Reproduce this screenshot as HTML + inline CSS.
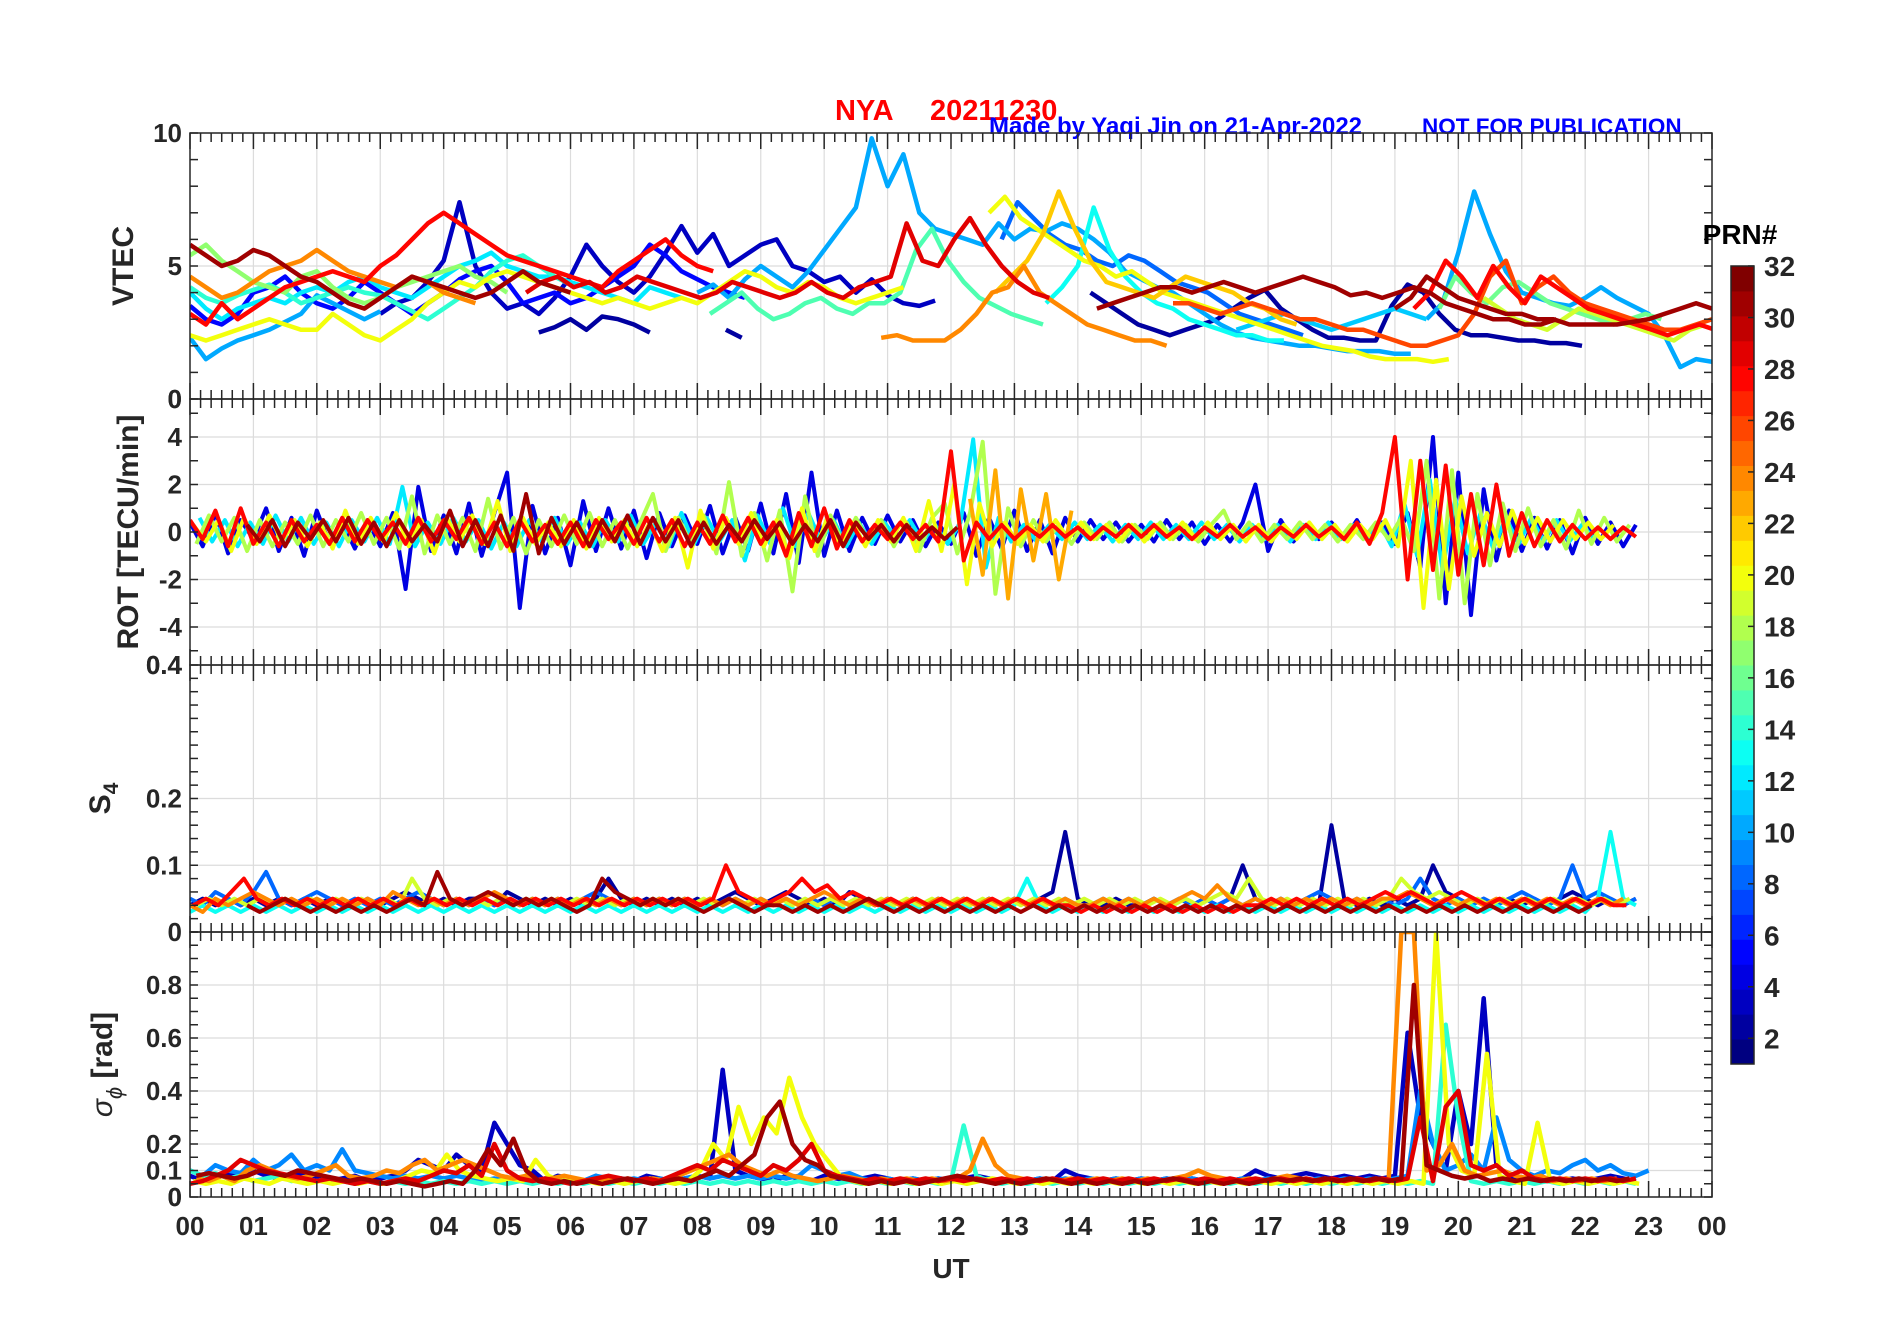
<!DOCTYPE html>
<html><head><meta charset="utf-8"><style>
html,body{margin:0;padding:0;background:#fff;}
svg{display:block;font-family:"Liberation Sans",Arial,sans-serif;}
</style></head><body>
<svg id="fig" width="1902" height="1330" viewBox="0 0 1902 1330" xmlns="http://www.w3.org/2000/svg">
<rect width="1902" height="1330" fill="#fff"/>
<text x="835" y="120" font-size="29" font-weight="bold" fill="#ff0000">NYA</text>
<text x="930" y="120" font-size="29" font-weight="bold" fill="#ff0000">20211230</text>
<text x="989" y="134" font-size="24" font-weight="bold" fill="#0000ff">Made by Yaqi Jin on 21-Apr-2022</text>
<text x="1422" y="134" font-size="22.5" font-weight="bold" fill="#0000ff">NOT FOR PUBLICATION</text>
<g id="panels"></g>
<g id="cbar"></g>
<text x="951" y="1278" font-size="28" font-weight="bold" fill="#262626" text-anchor="middle">UT</text>
<text x="1740" y="244" font-size="28" font-weight="bold" fill="#000" text-anchor="middle">PRN#</text>
</svg>
<script>
// ---------- data ----------
const hourLabels = ["00","01","02","03","04","05","06","07","08","09","10","11","12","13","14","15","16","17","18","19","20","21","22","23","00"];
const vtecTicks = [0,5,10];
const rotTicks = [-4,-2,0,2,4];
const s4Ticks = [0.1,0.2,0.4];
const sigTicks = [0,0.1,0.2,0.4,0.6,0.8];
const cbarTicks = [2,4,6,8,10,12,14,16,18,20,22,24,26,28,30,32];

// VTEC series: PRN, start hour, values every 0.25 h
const vtecPrn   = [10,10,10,3,2,2,2,5,12,14,15,17,20,20,22,24,24,26,28,28,29,31,31,31,13,16,8,19,11];
const vtecStart = [0,8,19.5,3,5.5,8.45,14.2,0,0,0,8.2,0,0,12.6,12.7,0,10.9,15.5,0,19.3,5.3,0,14.3,19.0,13.5,19.7,12.8,20.4,16.5];
const vtecVals = [
 [2.3,1.5,1.9,2.2,2.4,2.6,2.9,3.2,3.9,3.6,3.3,3.0,3.3],
 [4.0,4.3,3.8,4.5,5.0,4.6,4.2,4.8,5.6,6.4,7.2,9.8,8.0,9.2,7.0,6.4,6.2,6.0,5.8,6.6,6.0,6.4,6.3,6.6,6.4,6.0,5.5,4.8,4.5,4.2,4.0,3.6,3.2,2.8,2.5,2.3,2.2,2.1,2.0,2.0,1.9,1.8,1.8,1.8,1.7,1.7],
 [3.0,3.6,5.5,7.8,6.2,4.8,4.0,3.8,3.6,3.5,3.8,4.2,3.8,3.5,3.2,2.4,1.2,1.5,1.4],
 [3.2,3.6,3.8,4.4,5.2,7.4,5.0,4.0,3.4,3.6,3.2,3.8,4.6,5.8,5.0,4.4,4.0,4.6,5.5,6.5,5.5,6.2,5.0,5.4,5.8,6.0,5.0,4.8,4.4,4.6,4.0,4.5,3.9,3.6,3.5,3.7],
 [2.5,2.7,3.0,2.6,3.1,3.0,2.8,2.5],
 [2.6,2.3],
 [4.0,3.6,3.2,2.8,2.6,2.4,2.6,2.8,3.0,3.4,3.8,4.1,3.4,3.0,2.6,2.3,2.3,2.2,2.2,3.5,4.3,4.0,3.2,2.6,2.4,2.4,2.3,2.2,2.2,2.1,2.1,2.0],
 [3.5,3.0,2.8,3.2,4.0,4.2,4.6,4.0,3.6,3.4,3.8,4.4,4.0,3.6,3.2,3.6,4.0,4.5,4.8,5.0,4.4,3.6,3.8,4.0,3.6,3.8,4.2,4.6,5.0,5.8,5.4,4.8,4.5,4.2,4.0,3.8],
 [4.0,3.4,3.0,3.4,3.6,3.8,3.6,4.0,4.2,4.0,4.4,4.6,4.2,4.0,3.8,4.2,4.6,5.0,5.2,5.5,5.0,4.8,4.6,4.6,4.4,4.2,4.0,3.8,3.6,4.2,4.0,3.8],
 [4.2,3.8,3.6,3.9,4.1,4.3,4.0,3.6,3.8,4.0,4.2,4.0,3.9,3.6,3.3,3.0,3.4,3.8,4.2,4.8,5.2,5.4,5.0,4.6,4.3],
 [3.2,3.6,4.0,3.4,3.0,3.2,3.6,3.8,3.4,3.2,3.6,3.6,4.0,5.6,6.4,5.2,4.4,3.8,3.5,3.2,3.0,2.8],
 [5.4,5.8,5.2,4.8,4.4,4.2,4.0,4.6,4.8,4.2,3.8,3.6,3.8,4.2,4.4,4.6,4.8,5.0,4.6,4.4,4.0],
 [2.4,2.2,2.4,2.6,2.8,3.0,2.8,2.6,2.6,3.2,2.8,2.4,2.2,2.6,3.0,3.6,4.0,4.4,4.2,4.6,4.8,4.6,4.4,4.2,4.0,3.8,3.6,3.8,3.6,3.4,3.6,3.8,3.6,4.0,4.4,4.8,4.6,4.2,4.0,4.4,4.2,3.8,3.6,3.8,4.0,4.2],
 [7.0,7.6,6.8,6.4,6.0,5.6,5.2,5.0,4.6,4.8,4.4,4.0,3.8,3.6,3.4,3.2,3.0,2.8,2.6,2.4,2.2,2.0,1.9,1.8,1.6,1.5,1.5,1.5,1.4,1.5],
 [4.0,4.6,5.2,6.2,7.8,6.4,5.2,4.4,4.2,4.0,3.8,4.2,4.6,4.4,4.2,4.0,3.6,3.4,3.0,2.8],
 [4.6,4.2,3.8,4.0,4.4,4.8,5.0,5.2,5.6,5.2,4.8,4.6,4.4,4.2,4.6,4.4,4.0,3.8,3.6],
 [2.3,2.4,2.2,2.2,2.2,2.6,3.2,4.0,4.2,5.0,4.0,3.6,3.2,2.8,2.6,2.4,2.2,2.2,2.0],
 [3.6,3.6,3.4,3.2,3.4,3.6,3.4,3.2,3.0,3.0,2.8,2.6,2.6,2.4,2.2,2.0,2.0,2.2,2.4,3.2,4.6,5.2,3.6,4.2,4.6,4.0,3.6,3.4,3.2,3.0,2.8,2.6,2.6,2.8,3.0,3.2],
 [3.2,2.8,3.6,3.0,3.4,3.8,4.2,4.4,4.6,4.8,4.6,4.4,5.0,5.4,6.0,6.6,7.0,6.6,6.2,5.8,5.4,5.2,5.0,4.8,4.6,4.4,4.2,4.8,5.2,5.6,6.0,5.4,5.0,4.8],
 [3.4,4.0,5.2,4.6,3.8,5.0,4.2,3.6,4.6,4.2,3.8,3.4,3.2,3.0,2.8,2.6,2.4,2.6,2.8,2.6,2.4,2.2],
 [4.0,4.4,4.6,4.2,4.4,4.0,4.2,4.6,4.4,4.2,4.0,3.8,4.0,4.4,4.2,4.0,3.8,4.0,4.4,4.0,3.8,4.2,4.4,4.6,6.6,5.2,5.0,6.0,6.8,5.8,5.0,4.4,4.0,3.8],
 [5.8,5.4,5.0,5.2,5.6,5.4,5.0,4.6,4.4,4.0,3.6,3.4,3.8,4.2,4.6,4.4,4.2,4.0,3.8,4.0,4.4,4.8,4.4,4.2,4.0],
 [3.4,3.6,3.8,4.0,4.2,4.2,4.0,4.2,4.4,4.2,4.0,4.2,4.4,4.6,4.4,4.2,3.9,4.0,3.8,4.0,4.2,4.0,3.6,3.4,3.2,3.0,3.0,2.8,2.8,3.0],
 [3.4,3.8,4.6,4.2,3.8,3.6,3.4,3.2,3.2,3.0,3.0,2.8,2.8,2.8,2.8,2.9,3.0,3.2,3.4,3.6,3.4],
 [3.6,4.2,5.0,7.2,5.6,4.6,4.0,3.6,3.4,3.0,2.8,2.6,2.4,2.4,2.2,2.2],
 [3.4,4.6,4.0,3.6,4.2,4.4,4.0,3.6,3.4,3.2,3.0,2.8,3.0,3.2,3.0],
 [6.0,7.4,6.8,6.2,5.8,5.6,5.2,5.0,5.4,5.2,4.8,4.4,4.2,4.0,3.6,3.2,3.0,2.8,2.6,2.4],
 [3.8,3.4,3.0,2.8,2.6,3.0,3.4,3.2,3.0,2.8,2.6,2.4,2.2,2.6,2.8],
 [2.6,2.8,3.0,3.2,3.0,2.8,2.6,2.8,3.0,3.2,3.4,3.2,3.0]
];

// ROT series: values every 0.2 h
const rotPrn = [4,18,20,12,28,23,31];
const rotStart = [0,0.1,0.05,0.15,0.0,12.3,0.9];
const rotVals = [
 [0.4,-0.6,0.8,-0.9,0.5,-0.3,1.0,-0.8,0.6,-1.0,0.9,-0.5,0.4,-0.7,0.5,-0.6,0.8,-2.4,1.9,-0.8,0.7,-0.9,1.2,-1.0,0.8,2.5,-3.2,1.1,-0.9,0.6,-1.4,1.3,-0.8,1.0,-0.7,0.9,-1.1,0.8,-0.6,0.7,-0.5,1.1,-0.9,0.6,-0.8,1.2,-0.9,1.6,-1.3,2.5,-1.0,0.9,-0.8,0.6,-0.5,0.7,-0.4,0.5,-0.6,0.4,-0.5,0.8,-1.0,0.6,-0.7,0.9,-0.8,0.5,-0.9,0.6,-0.4,0.5,-0.3,0.4,-0.4,0.3,-0.4,0.5,-0.3,0.4,-0.5,0.3,-0.4,0.4,2.0,-0.8,0.5,-0.4,0.3,-0.3,0.4,-0.3,0.5,-0.4,0.4,-0.5,0.8,-1.5,4.0,-3.0,2.5,-3.5,1.8,-1.2,0.9,-0.8,0.6,-0.7,0.5,-0.9,0.6,-0.5,0.4,-0.6,0.3],
 [-0.5,0.7,-0.4,0.6,-0.8,0.5,-0.6,0.4,-0.5,0.7,-0.6,0.5,-0.4,0.8,-0.5,0.6,-0.7,1.5,-0.9,0.7,-0.5,0.6,-0.8,1.4,-0.7,0.6,-0.9,0.5,-0.6,0.7,-0.5,0.8,-0.6,0.5,-0.7,0.4,1.6,-0.8,0.6,-0.5,0.7,-0.9,2.1,-1.0,0.8,-1.2,0.9,-2.5,1.5,-1.0,0.7,-0.5,0.6,-0.4,0.5,-0.6,0.4,-0.8,0.6,1.2,-0.9,0.8,3.8,-2.6,1.0,-0.6,0.5,-0.4,0.3,-0.5,0.4,-0.3,0.4,-0.4,0.3,-0.3,0.4,-0.3,0.3,-0.4,0.3,0.9,-0.3,0.4,-0.4,0.3,-0.3,0.4,-0.3,0.3,-0.4,0.3,-0.3,0.4,-0.3,0.6,-0.8,3.0,-2.8,2.6,-3.0,1.6,-1.4,1.2,-0.8,1.0,-0.6,0.5,-0.7,0.9,-0.5,0.6,-0.4,0.3],
 [0.3,-0.4,0.5,-0.8,0.6,-0.5,0.7,-0.4,0.5,-0.6,0.4,-0.7,0.9,-0.5,0.6,-0.4,0.8,-0.6,0.5,-0.9,0.6,-0.4,0.7,-0.5,1.3,-0.8,0.6,-0.5,0.4,-0.6,0.5,-0.7,0.6,-0.4,0.5,-0.6,0.4,-0.8,0.6,-1.5,0.9,-0.7,0.6,-0.5,0.8,-0.6,0.5,-1.1,1.0,-0.8,0.6,-0.5,0.4,-0.6,0.5,-0.4,0.6,-0.8,1.3,-0.8,2.0,-2.2,1.2,-0.6,0.4,-0.5,0.3,-0.4,0.5,-0.3,0.4,-0.3,0.3,-0.4,0.3,-0.4,0.3,-0.3,0.4,-0.3,0.4,-0.3,0.3,-0.4,0.3,-0.4,0.3,-0.3,0.4,-0.3,0.3,-0.4,0.3,-0.3,0.5,-0.6,3.0,-3.2,2.2,-2.4,1.5,-1.0,0.8,-0.6,0.9,-0.5,0.6,-0.4,0.5,-0.3,0.4,-0.3,0.3],
 [0.6,-0.4,0.5,-0.6,0.4,-0.5,0.7,-0.4,0.6,-0.5,0.4,-0.6,0.5,-0.4,0.6,-0.5,1.9,-0.6,0.4,-0.5,0.6,-0.4,0.5,-0.7,0.4,-0.6,0.5,-0.4,0.6,-0.5,0.4,-0.6,0.5,-0.4,0.7,-0.5,0.4,-0.6,0.8,-0.5,0.6,-0.4,0.5,-1.2,0.7,-0.5,1.0,-0.6,0.8,-0.4,0.5,-0.6,0.4,-0.5,0.4,-0.3,0.5,-0.4,0.3,-0.5,0.4,3.9,-1.5,0.6,-0.4,0.3,-0.4,0.3,-0.3,0.4,-0.3,0.3,-0.4,0.3,-0.3,0.4,-0.3,0.3,-0.3,0.4,-0.3,0.3,-0.4,0.3,-0.3,0.3,-0.4,0.3,-0.3,0.4,-0.3,0.3,-0.3,0.4,-0.6,1.2,-1.0,2.2,-1.6,1.4,-0.9,0.8,-0.7,0.6,-0.5,0.6,-0.4,0.5,-0.4,0.3,-0.3],
 [0.5,-0.3,0.9,-0.6,1.0,-0.5,0.4,-0.6,0.5,-0.4,0.3,-0.5,0.6,-0.4,0.5,-0.3,0.4,-0.5,0.6,-0.4,0.5,-0.3,0.6,-0.5,0.4,-0.6,0.5,-0.4,0.3,-0.5,0.4,-0.6,0.5,-0.3,0.4,-0.5,0.6,-0.4,0.5,-0.6,0.4,-0.5,0.7,-0.4,0.6,-0.5,0.4,-1.0,0.8,-0.6,1.0,-0.7,0.5,-0.4,0.3,-0.3,0.4,-0.3,0.3,-0.4,3.4,-1.2,0.4,-0.3,0.3,-0.3,0.2,-0.2,0.3,-0.2,0.2,-0.3,0.2,-0.2,0.3,-0.2,0.3,-0.2,0.2,-0.3,0.2,-0.2,0.3,-0.2,0.2,-0.3,0.2,-0.2,0.3,-0.2,0.2,-0.3,0.4,-0.5,0.8,4.0,-2.0,3.0,-1.6,2.8,-1.8,1.6,-1.4,2.0,-1.0,0.8,-0.6,0.5,-0.4,0.3,-0.3,0.2,-0.3,0.2,-0.2],
 [1.4,-1.8,2.6,-2.8,1.8,-1.2,1.6,-2.0,0.9],
 [0.3,-0.4,0.5,-0.6,0.4,-0.3,0.5,-0.4,0.6,-0.5,0.4,-0.6,0.5,-0.4,0.3,-0.4,0.9,-0.6,0.5,-0.6,0.7,-0.8,1.6,-0.9,0.6,-0.5,0.4,-0.6,0.5,-0.4,0.7,-0.5,0.6,-0.4,0.5,-0.6,0.4,-0.5,0.3,-0.4,0.5,-0.3,0.4,-0.5,0.3,-0.4,0.5,-0.6,0.4,-0.3,0.3,-0.4,0.3,-0.3,0.2,-0.3,0.2]
];

// S4 series: values every 0.2 h
const s4Prn = [2,8,13,19,24,28,31];
const s4Start = [0,0,0,0.1,0,0.05,0.9];
const s4Vals = [
 [0.04,0.05,0.04,0.05,0.04,0.05,0.04,0.05,0.04,0.05,0.04,0.05,0.04,0.04,0.05,0.04,0.05,0.06,0.05,0.04,0.05,0.04,0.05,0.05,0.04,0.06,0.05,0.04,0.05,0.04,0.05,0.04,0.05,0.08,0.05,0.04,0.05,0.04,0.05,0.04,0.05,0.04,0.05,0.06,0.05,0.04,0.05,0.06,0.05,0.04,0.05,0.04,0.06,0.05,0.04,0.05,0.04,0.05,0.04,0.05,0.04,0.05,0.04,0.05,0.04,0.05,0.04,0.05,0.06,0.15,0.05,0.04,0.04,0.05,0.04,0.04,0.05,0.04,0.05,0.04,0.05,0.04,0.05,0.1,0.05,0.04,0.05,0.04,0.05,0.04,0.16,0.05,0.04,0.05,0.04,0.05,0.04,0.05,0.1,0.06,0.05,0.04,0.05,0.04,0.05,0.04,0.05,0.04,0.05,0.06,0.05,0.04,0.05,0.04,0.05],
 [0.05,0.04,0.06,0.05,0.04,0.06,0.09,0.05,0.04,0.05,0.06,0.05,0.04,0.05,0.04,0.05,0.04,0.05,0.06,0.05,0.04,0.05,0.04,0.05,0.04,0.05,0.04,0.05,0.04,0.05,0.04,0.05,0.06,0.05,0.04,0.05,0.04,0.05,0.04,0.05,0.04,0.05,0.04,0.05,0.04,0.05,0.04,0.05,0.04,0.05,0.04,0.05,0.04,0.05,0.04,0.05,0.04,0.05,0.04,0.05,0.04,0.05,0.04,0.05,0.04,0.05,0.04,0.05,0.04,0.05,0.04,0.04,0.05,0.04,0.05,0.04,0.05,0.04,0.05,0.04,0.05,0.04,0.05,0.04,0.05,0.04,0.05,0.04,0.05,0.06,0.05,0.04,0.05,0.04,0.05,0.04,0.05,0.08,0.05,0.04,0.05,0.04,0.05,0.04,0.05,0.06,0.05,0.04,0.05,0.1,0.05,0.06,0.05,0.04,0.05],
 [0.03,0.04,0.03,0.04,0.03,0.04,0.03,0.04,0.03,0.04,0.03,0.04,0.03,0.04,0.03,0.04,0.03,0.04,0.03,0.04,0.03,0.04,0.03,0.04,0.03,0.04,0.03,0.04,0.03,0.04,0.03,0.04,0.03,0.04,0.03,0.04,0.03,0.04,0.03,0.04,0.03,0.04,0.03,0.04,0.03,0.04,0.03,0.04,0.03,0.04,0.03,0.04,0.03,0.04,0.03,0.04,0.03,0.04,0.03,0.04,0.03,0.04,0.03,0.04,0.03,0.04,0.08,0.04,0.03,0.04,0.03,0.04,0.03,0.04,0.03,0.04,0.03,0.04,0.03,0.04,0.03,0.04,0.03,0.04,0.03,0.04,0.03,0.04,0.03,0.04,0.03,0.04,0.03,0.04,0.03,0.04,0.03,0.04,0.03,0.04,0.03,0.04,0.03,0.04,0.03,0.04,0.03,0.04,0.03,0.04,0.03,0.05,0.15,0.05,0.04],
 [0.04,0.05,0.04,0.05,0.04,0.05,0.04,0.05,0.04,0.05,0.04,0.05,0.04,0.05,0.04,0.05,0.04,0.08,0.05,0.04,0.05,0.04,0.05,0.04,0.05,0.04,0.05,0.04,0.05,0.04,0.05,0.04,0.05,0.04,0.05,0.04,0.05,0.04,0.05,0.04,0.05,0.04,0.05,0.04,0.05,0.04,0.05,0.04,0.05,0.04,0.05,0.04,0.05,0.04,0.05,0.04,0.05,0.04,0.05,0.04,0.05,0.04,0.05,0.04,0.05,0.04,0.05,0.04,0.05,0.04,0.05,0.04,0.05,0.04,0.05,0.04,0.05,0.04,0.05,0.04,0.05,0.06,0.05,0.08,0.05,0.04,0.05,0.04,0.05,0.04,0.05,0.04,0.05,0.04,0.05,0.08,0.06,0.05,0.06,0.05,0.04,0.05,0.04,0.05,0.04,0.05,0.04,0.05,0.04,0.05,0.04,0.05,0.04,0.05],
 [0.04,0.03,0.05,0.04,0.05,0.06,0.05,0.04,0.05,0.04,0.05,0.04,0.05,0.04,0.05,0.04,0.06,0.05,0.04,0.05,0.04,0.05,0.04,0.05,0.06,0.05,0.04,0.05,0.04,0.05,0.04,0.05,0.04,0.05,0.04,0.05,0.04,0.05,0.04,0.05,0.04,0.05,0.04,0.05,0.04,0.05,0.04,0.05,0.04,0.05,0.06,0.05,0.04,0.05,0.04,0.05,0.04,0.05,0.04,0.05,0.04,0.05,0.04,0.05,0.04,0.05,0.04,0.05,0.04,0.05,0.04,0.04,0.05,0.04,0.05,0.04,0.05,0.04,0.05,0.06,0.05,0.07,0.05,0.04,0.05,0.04,0.05,0.04,0.05,0.04,0.05,0.04,0.05,0.04,0.05,0.05,0.06,0.05,0.04,0.05,0.04,0.05,0.04,0.05,0.04,0.05,0.04,0.05,0.04,0.05,0.04,0.05,0.04,0.05],
 [0.04,0.05,0.04,0.06,0.08,0.05,0.04,0.05,0.04,0.05,0.04,0.05,0.04,0.05,0.04,0.05,0.04,0.05,0.04,0.05,0.04,0.05,0.04,0.05,0.04,0.05,0.04,0.05,0.04,0.05,0.04,0.05,0.04,0.05,0.04,0.05,0.04,0.05,0.04,0.05,0.04,0.05,0.1,0.06,0.05,0.04,0.05,0.06,0.08,0.06,0.07,0.05,0.06,0.05,0.04,0.05,0.04,0.05,0.04,0.05,0.04,0.05,0.04,0.05,0.04,0.05,0.04,0.05,0.04,0.04,0.03,0.04,0.03,0.04,0.03,0.04,0.03,0.04,0.03,0.04,0.03,0.04,0.03,0.04,0.04,0.05,0.04,0.05,0.04,0.05,0.04,0.05,0.04,0.05,0.06,0.05,0.06,0.05,0.04,0.05,0.06,0.05,0.04,0.05,0.04,0.05,0.04,0.05,0.04,0.05,0.04,0.05,0.04,0.04],
 [0.04,0.03,0.04,0.05,0.04,0.03,0.04,0.03,0.04,0.03,0.04,0.03,0.04,0.05,0.04,0.09,0.05,0.04,0.05,0.06,0.05,0.04,0.05,0.04,0.05,0.04,0.03,0.04,0.08,0.06,0.05,0.04,0.05,0.04,0.05,0.04,0.03,0.04,0.05,0.04,0.03,0.04,0.04,0.03,0.04,0.03,0.04,0.03,0.04,0.05,0.04,0.03,0.04,0.03,0.04,0.03,0.04,0.03,0.04,0.03,0.04,0.03,0.04,0.03,0.04,0.03,0.04,0.03,0.04,0.03,0.04,0.03,0.04,0.03,0.04,0.03,0.04,0.03,0.04,0.03,0.04,0.03,0.04,0.03,0.04,0.03,0.04,0.03,0.04,0.03,0.04,0.03,0.04,0.03,0.04,0.03,0.04,0.03,0.04,0.03,0.04,0.03,0.04,0.03,0.04,0.03,0.04]
];

// sigma-phi series: values every 0.2 h
const sigPrn = [3,9,14,20,24,29,31];
const sigStart = [0,0,0,0.05,0.1,0,0.1];
const sigVals = [
 [0.08,0.06,0.07,0.09,0.07,0.1,0.08,0.07,0.09,0.08,0.07,0.06,0.07,0.08,0.06,0.07,0.08,0.1,0.14,0.12,0.1,0.16,0.12,0.1,0.28,0.2,0.12,0.1,0.06,0.08,0.07,0.06,0.08,0.06,0.07,0.06,0.08,0.07,0.06,0.07,0.08,0.07,0.48,0.1,0.08,0.07,0.06,0.08,0.07,0.06,0.08,0.07,0.06,0.07,0.08,0.07,0.06,0.07,0.06,0.07,0.06,0.07,0.08,0.07,0.06,0.07,0.06,0.07,0.06,0.1,0.08,0.07,0.06,0.07,0.06,0.07,0.06,0.07,0.06,0.07,0.06,0.07,0.06,0.07,0.1,0.08,0.07,0.08,0.09,0.08,0.07,0.08,0.07,0.08,0.07,0.08,0.62,0.3,0.2,0.1,0.4,0.2,0.75,0.12,0.08,0.07,0.08,0.07,0.06,0.07,0.06,0.07,0.08,0.07,0.06],
 [0.1,0.08,0.12,0.1,0.09,0.14,0.1,0.12,0.16,0.1,0.12,0.1,0.18,0.1,0.09,0.08,0.07,0.08,0.07,0.08,0.07,0.08,0.07,0.06,0.07,0.06,0.07,0.06,0.07,0.06,0.07,0.06,0.08,0.07,0.06,0.07,0.06,0.07,0.06,0.07,0.08,0.07,0.08,0.07,0.08,0.07,0.08,0.07,0.08,0.12,0.1,0.08,0.09,0.07,0.06,0.07,0.06,0.07,0.06,0.07,0.06,0.07,0.06,0.07,0.06,0.07,0.06,0.07,0.06,0.07,0.06,0.07,0.06,0.07,0.06,0.07,0.06,0.07,0.06,0.07,0.06,0.07,0.06,0.07,0.06,0.07,0.06,0.07,0.06,0.07,0.06,0.07,0.06,0.07,0.06,0.07,0.08,0.4,0.2,0.1,0.12,0.16,0.1,0.3,0.14,0.1,0.08,0.1,0.09,0.12,0.14,0.1,0.12,0.09,0.08,0.1],
 [0.1,0.08,0.09,0.07,0.08,0.06,0.07,0.08,0.06,0.07,0.06,0.07,0.06,0.05,0.06,0.05,0.06,0.05,0.06,0.05,0.06,0.05,0.06,0.05,0.06,0.05,0.06,0.05,0.06,0.05,0.06,0.05,0.06,0.05,0.06,0.05,0.06,0.05,0.06,0.05,0.06,0.05,0.06,0.05,0.06,0.05,0.06,0.05,0.06,0.05,0.06,0.05,0.06,0.05,0.06,0.05,0.06,0.05,0.06,0.05,0.06,0.27,0.08,0.06,0.05,0.06,0.05,0.06,0.05,0.06,0.05,0.06,0.05,0.06,0.05,0.06,0.05,0.06,0.05,0.06,0.05,0.06,0.05,0.06,0.05,0.06,0.05,0.06,0.05,0.06,0.05,0.06,0.05,0.06,0.05,0.06,0.05,0.06,0.05,0.65,0.3,0.06,0.05,0.06,0.05,0.06,0.05,0.06,0.05,0.06,0.05,0.06,0.05,0.06,0.05],
 [0.06,0.05,0.06,0.05,0.07,0.06,0.05,0.07,0.06,0.05,0.06,0.05,0.06,0.05,0.06,0.05,0.06,0.08,0.1,0.09,0.16,0.1,0.08,0.07,0.06,0.07,0.06,0.14,0.08,0.06,0.07,0.06,0.05,0.06,0.05,0.06,0.07,0.06,0.05,0.06,0.1,0.2,0.14,0.34,0.2,0.3,0.24,0.45,0.3,0.2,0.14,0.08,0.06,0.05,0.06,0.05,0.06,0.05,0.06,0.05,0.06,0.05,0.06,0.07,0.06,0.05,0.06,0.05,0.06,0.05,0.06,0.05,0.06,0.05,0.06,0.05,0.06,0.05,0.06,0.05,0.06,0.05,0.06,0.05,0.06,0.05,0.06,0.05,0.06,0.05,0.06,0.05,0.06,0.05,0.06,0.05,0.06,0.05,1.0,0.2,0.1,0.08,0.54,0.08,0.06,0.05,0.28,0.06,0.05,0.06,0.05,0.06,0.05,0.06,0.05],
 [0.07,0.06,0.08,0.06,0.1,0.12,0.1,0.08,0.07,0.08,0.1,0.12,0.08,0.07,0.08,0.1,0.09,0.12,0.14,0.1,0.12,0.14,0.12,0.1,0.08,0.07,0.08,0.06,0.07,0.08,0.07,0.06,0.07,0.06,0.07,0.06,0.07,0.06,0.08,0.1,0.12,0.14,0.16,0.12,0.1,0.08,0.1,0.08,0.07,0.06,0.07,0.08,0.07,0.06,0.07,0.06,0.07,0.06,0.07,0.06,0.07,0.1,0.22,0.12,0.08,0.07,0.06,0.07,0.06,0.07,0.06,0.07,0.06,0.07,0.06,0.07,0.06,0.07,0.08,0.1,0.08,0.07,0.06,0.07,0.06,0.07,0.08,0.07,0.06,0.07,0.06,0.07,0.06,0.07,0.06,1.0,1.0,0.1,0.12,0.2,0.1,0.08,0.09,0.1,0.08,0.07,0.08,0.06,0.07,0.06,0.07,0.06,0.07],
 [0.05,0.06,0.08,0.1,0.14,0.12,0.1,0.09,0.08,0.07,0.06,0.07,0.06,0.05,0.06,0.05,0.06,0.07,0.06,0.08,0.1,0.09,0.12,0.08,0.2,0.1,0.07,0.06,0.07,0.06,0.05,0.06,0.07,0.08,0.07,0.06,0.07,0.06,0.08,0.1,0.12,0.1,0.14,0.12,0.1,0.08,0.12,0.1,0.14,0.2,0.1,0.08,0.07,0.06,0.07,0.06,0.07,0.06,0.07,0.06,0.07,0.06,0.07,0.06,0.07,0.06,0.07,0.06,0.07,0.06,0.07,0.06,0.07,0.06,0.07,0.06,0.07,0.06,0.07,0.06,0.07,0.06,0.07,0.06,0.07,0.06,0.07,0.06,0.07,0.06,0.07,0.06,0.07,0.06,0.07,0.06,0.07,0.3,0.06,0.34,0.4,0.12,0.1,0.12,0.08,0.1,0.07,0.06,0.07,0.06,0.07,0.06,0.07,0.06,0.07],
 [0.08,0.09,0.08,0.07,0.08,0.1,0.09,0.08,0.1,0.09,0.08,0.07,0.06,0.07,0.06,0.05,0.06,0.05,0.04,0.05,0.06,0.05,0.1,0.18,0.12,0.22,0.1,0.06,0.05,0.06,0.05,0.06,0.05,0.06,0.07,0.06,0.05,0.06,0.07,0.06,0.08,0.1,0.08,0.12,0.16,0.3,0.36,0.2,0.14,0.12,0.08,0.07,0.06,0.05,0.06,0.05,0.06,0.05,0.06,0.07,0.08,0.07,0.06,0.05,0.06,0.05,0.06,0.07,0.06,0.05,0.06,0.05,0.06,0.05,0.06,0.05,0.06,0.07,0.06,0.05,0.06,0.05,0.06,0.05,0.06,0.07,0.06,0.07,0.06,0.07,0.06,0.07,0.06,0.07,0.06,0.07,0.8,0.12,0.1,0.08,0.07,0.08,0.06,0.07,0.06,0.07,0.06,0.07,0.06,0.07,0.06,0.07,0.06,0.07]
];

// ---------- drawing ----------
const NS = "http://www.w3.org/2000/svg";
const X0 = 190, X1 = 1712;
const xs = h => X0 + (X1 - X0) * h / 24;
function jet(p){
  const t = (p-1)/31;
  const c = v => Math.round(255*Math.max(0,Math.min(1,v)));
  return `rgb(${c(1.5-Math.abs(4*t-3))},${c(1.5-Math.abs(4*t-2))},${c(1.5-Math.abs(4*t-1))})`;
}
function mk(tag, attrs, parent){
  const e = document.createElementNS(NS, tag);
  for (const k in attrs) e.setAttribute(k, attrs[k]);
  parent.appendChild(e); return e;
}
const root = document.getElementById('panels');
const panels = [
  {name:'vtec', top:133, bot:399, min:0, max:10, ticks:vtecTicks, minor:1, labels:['0','5','10'], prn:vtecPrn, start:vtecStart, vals:vtecVals, dt:0.25, title:'VTEC', tx:133, lw:4.5},
  {name:'rot', top:399, bot:665, min:-5.6, max:5.6, ticks:rotTicks, minor:1, labels:['-4','-2','0','2','4'], prn:rotPrn, start:rotStart, vals:rotVals, dt:0.2, title:'ROT [TECU/min]', tx:138, lw:4},
  {name:'s4', top:665, bot:932, min:0, max:0.4, ticks:s4Ticks, minor:0.02, labels:['0.1','0.2','0.4'], prn:s4Prn, start:s4Start, vals:s4Vals, dt:0.2, title:'S4', tx:110, lw:4},
  {name:'sigma', top:932, bot:1197, min:0, max:1, ticks:sigTicks, minor:0.05, labels:['0','0.1','0.2','0.4','0.6','0.8'], prn:sigPrn, start:sigStart, vals:sigVals, dt:0.2, title:'sigma', tx:112, lw:4.5}
];
panels.forEach((P, pi) => {
  const g = mk('g', {}, root);
  
  
  const ys = v => P.bot - (P.bot - P.top) * (v - P.min) / (P.max - P.min);
  for (let h = 1; h < 24; h++) {
    const l = mk('line', {x1:xs(h), x2:xs(h), y1:P.top, y2:P.bot, stroke:'#dcdcdc', 'stroke-width':1.2}, g);
    
    
  }
  P.ticks.forEach(v => {
    const l = mk('line', {x1:X0, x2:X1, y1:ys(v), y2:ys(v), stroke:'#dcdcdc', 'stroke-width':1.2}, g);
    
    
  });
  const cid = 'clip' + pi;
  const cp = mk('clipPath', {id:cid}, g);
  mk('rect', {x:X0, y:P.top, width:X1-X0, height:P.bot-P.top}, cp);
  const sg = mk('g', {'clip-path':`url(#${cid})`}, g);
  const order = P.prn.map((p,i)=>i).sort((a,b)=>P.prn[a]-P.prn[b]);
  order.forEach(i => {
    const pts = P.vals[i].map((v,k) => xs(P.start[i] + k*P.dt).toFixed(1) + ',' + ys(v).toFixed(1)).join(' ');
    const pl = mk('polyline', {points:pts, fill:'none', stroke:jet(P.prn[i]), 'stroke-width':P.lw, 'stroke-linejoin':'round'}, sg);
    
    
  });
  mk('rect', {x:X0, y:P.top, width:X1-X0, height:P.bot-P.top, fill:'none', stroke:'#262626', 'stroke-width':1.5}, g);
  for (let k = 0; k <= 144; k++) {
    const x = xs(k/6), major = k % 6 === 0, len = major ? 16 : 9;
    mk('line', {x1:x, x2:x, y1:P.bot, y2:P.bot-len, stroke:'#262626', 'stroke-width':1.5}, g);
    mk('line', {x1:x, x2:x, y1:P.top, y2:P.top+len, stroke:'#262626', 'stroke-width':1.5}, g);
  }
  for (let v = P.min - (P.min % P.minor); v <= P.max + 1e-9; v += P.minor) {
    if (v < P.min - 1e-9) continue;
    mk('line', {x1:X0, x2:X0+8, y1:ys(v), y2:ys(v), stroke:'#262626', 'stroke-width':1.5}, g);
    mk('line', {x1:X1, x2:X1-8, y1:ys(v), y2:ys(v), stroke:'#262626', 'stroke-width':1.5}, g);
  }
  P.ticks.forEach((v,j) => {
    const t = mk('text', {x:X0-8, y:ys(v)+9, 'font-size':26, 'font-weight':'bold', fill:'#262626', 'text-anchor':'end'}, g);
    t.textContent = P.labels[j];
    
    
  });
  if (P.name === 'vtec' || P.name === 's4' || P.name === 'sigma') {
    const t = mk('text', {x:X0-8, y:P.bot+9, 'font-size':26, 'font-weight':'bold', fill:'#262626', 'text-anchor':'end'}, g);
    t.textContent = '0';
    
    
  }
  if (P.name === 'rot') {
    const t = mk('text', {x:X0-8, y:P.bot+9, 'font-size':26, 'font-weight':'bold', fill:'#262626', 'text-anchor':'end'}, g);
    t.textContent = '0.4';
    
    
  }
  const cy = (P.top + P.bot)/2;
  const tt = mk('text', {x:P.tx, y:cy, 'font-size':30, 'font-weight':'bold', fill:'#262626', 'text-anchor':'middle', transform:`rotate(-90 ${P.tx} ${cy})`}, g);
  
  
  if (P.name === 's4') {
    tt.innerHTML = 'S<tspan font-size="21" dy="8">4</tspan>';
  } else if (P.name === 'sigma') {
    tt.innerHTML = '<tspan font-style="italic" font-weight="normal">σ</tspan><tspan font-style="italic" font-weight="normal" font-size="22" dy="10">ϕ</tspan><tspan dy="-10"> [rad]</tspan>';
  } else {
    tt.textContent = P.title;
  }
});
const xl = mk('g', {}, root);


hourLabels.forEach((s,h) => {
  const t = mk('text', {x:xs(h), y:1235, 'font-size':26, 'font-weight':'bold', fill:'#262626', 'text-anchor':'middle'}, xl);
  t.textContent = s;
  
  
});
const cb = document.getElementById('cbar');


const CT = 266, CB = 1064, CX = 1731, CW = 23;
for (let p = 1; p <= 32; p++) {
  const h = (CB-CT)/32;
  const r = mk('rect', {x:CX, y:CB - p*h, width:CW, height:h+0.5, fill:jet(p)}, cb);
  
  
}
mk('rect', {x:CX, y:CT, width:CW, height:CB-CT, fill:'none', stroke:'#262626', 'stroke-width':1.5}, cb);
const cys = v => CB - (CB-CT)*(v-1)/31;
cbarTicks.forEach(v => {
  mk('line', {x1:CX+CW-6, x2:CX+CW, y1:cys(v), y2:cys(v), stroke:'#262626', 'stroke-width':1.5}, cb);
  const t = mk('text', {x:CX+CW+10, y:cys(v)+10, 'font-size':28, 'font-weight':'bold', fill:'#262626'}, cb);
  t.textContent = v;
  
  
});
</script>
</body></html>
